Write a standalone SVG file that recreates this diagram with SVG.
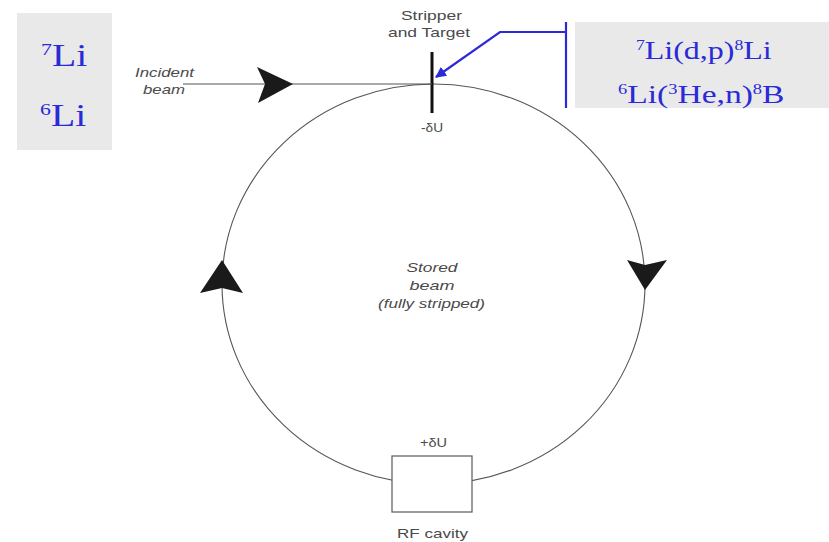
<svg xmlns="http://www.w3.org/2000/svg" width="829" height="542" viewBox="0 0 829 542">
  <style>
    .lbl { font-family: "Liberation Sans", Arial, sans-serif; font-size: 13px; fill: #4a4a4a; text-anchor: middle; }
    .ital { font-style: italic; }
    .nuc { font-family: "Liberation Serif", "Times New Roman", serif; fill: #2a2ad8; }
    .sup { font-size: 0.55em; }
    .ring { fill: none; stroke: #555; stroke-width: 1.1; }
    .beam { stroke: #555; stroke-width: 1.1; fill: none; }
    .head { fill: #1a1a1a; }
    .panel { fill: #e9e9e9; }
    .blue { stroke: #2a2ad8; stroke-width: 2.2; fill: none; }
  </style>
  <defs>
    <marker id="blueHead" viewBox="0 0 10 10" refX="9" refY="5" markerWidth="5" markerHeight="5" orient="auto" markerUnits="strokeWidth">
      <path d="M0,0 L10,5 L0,10 Z" fill="#2a2ad8"/>
    </marker>
  </defs>

  <rect width="829" height="542" fill="#ffffff"/>

  <!-- ion species panel -->
  <g id="ions">
    <rect class="panel" x="17" y="13" width="95" height="137"/>
    <text class="nuc" font-size="32" transform="translate(41,66) scale(1.24,1)"><tspan class="sup" dy="-11">7</tspan><tspan dy="11">Li</tspan></text>
    <text class="nuc" font-size="32" transform="translate(40,126) scale(1.24,1)"><tspan class="sup" dy="-11">6</tspan><tspan dy="11">Li</tspan></text>
  </g>

  <!-- reactions panel -->
  <g id="reactions">
    <rect class="panel" x="575" y="22" width="254" height="86"/>
    <text class="nuc" font-size="26" transform="translate(636,59) scale(1.23,1)"><tspan class="sup" dy="-9">7</tspan><tspan dy="9">Li(d,p)</tspan><tspan class="sup" dy="-9">8</tspan><tspan dy="9">Li</tspan></text>
    <text class="nuc" font-size="26" transform="translate(618,103) scale(1.29,1)"><tspan class="sup" dy="-9">6</tspan><tspan dy="9">Li(</tspan><tspan class="sup" dy="-9">3</tspan><tspan dy="9">He,n)</tspan><tspan class="sup" dy="-9">8</tspan><tspan dy="9">B</tspan></text>
  </g>

  <!-- storage ring -->
  <g id="ring">
    <ellipse class="ring" cx="433.5" cy="284" rx="211.5" ry="200"/>
    <text class="lbl ital" x="432" y="272" textLength="51" lengthAdjust="spacingAndGlyphs">Stored</text>
    <text class="lbl ital" x="432" y="290" textLength="45" lengthAdjust="spacingAndGlyphs">beam</text>
    <text class="lbl ital" x="431.5" y="308" textLength="107" lengthAdjust="spacingAndGlyphs">(fully stripped)</text>
  </g>

  <!-- stripper foil / target -->
  <g id="stripper">
    <line x1="432" y1="52" x2="432" y2="113" stroke="#111" stroke-width="3"/>
    <text class="lbl" x="431.5" y="20" textLength="61" lengthAdjust="spacingAndGlyphs">Stripper</text>
    <text class="lbl" x="429" y="37" textLength="82" lengthAdjust="spacingAndGlyphs">and Target</text>
    <text class="lbl" x="432" y="132" textLength="22" lengthAdjust="spacingAndGlyphs">-δU</text>
  </g>

  <!-- RF cavity -->
  <g id="rf-cavity">
    <rect x="392" y="456" width="80" height="56" fill="#fff" stroke="#666" stroke-width="1.3"/>
    <text class="lbl" x="433.5" y="447" textLength="27" lengthAdjust="spacingAndGlyphs">+δU</text>
    <text class="lbl" x="432.5" y="538" textLength="71" lengthAdjust="spacingAndGlyphs">RF cavity</text>
  </g>

  <!-- incident beam label -->
  <g id="incident">
    <text class="lbl ital" x="164.5" y="77" textLength="59" lengthAdjust="spacingAndGlyphs">Incident</text>
    <text class="lbl ital" x="164" y="94" textLength="42" lengthAdjust="spacingAndGlyphs">beam</text>
  </g>

  <!-- connectors and direction arrows -->
  <g id="connectors">
    <line class="beam" x1="183" y1="84" x2="432" y2="84"/>
    <path class="head" d="M293,84 L257,67 L265,84 L258,103 Z"/>
    <path class="head" d="M222,260 L200,293 L222,288 L243,293 Z"/>
    <path class="head" d="M645,290 L627,260 L645,265 L667,260 Z"/>
    <polyline class="blue" points="566,32 500,32 436,77" marker-end="url(#blueHead)"/>
    <line class="blue" x1="566" y1="22" x2="566" y2="108"/>
  </g>
</svg>
